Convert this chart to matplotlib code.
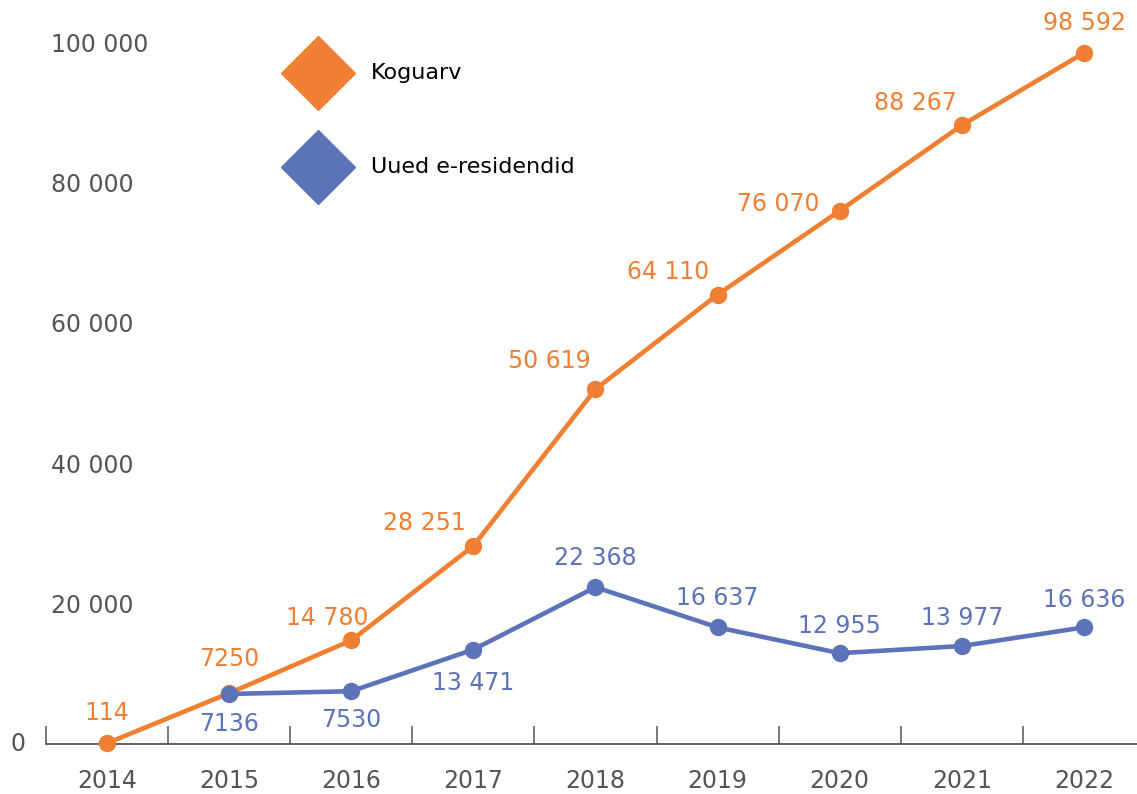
import matplotlib
matplotlib.use('Agg')
from matplotlib import pyplot as plt
from matplotlib.ticker import FixedLocator

years = ["2014", "2015", "2016", "2017", "2018", "2019", "2020", "2021", "2022"]
total = [114, 7250, 14780, 28251, 50619, 64110, 76070, 88267, 98592]
new_years = years[1:]
new_res = [7136, 7530, 13471, 22368, 16637, 12955, 13977, 16636]
y_ticks = [0, 20000, 40000, 60000, 80000, 100000]

orange = "#EE7F33"
blue = "#5D73B9"
grey = "#555555"

plt.rcParams['font.family'] = ['DejaVu Sans']
FS = 17

def fmt(v):
    return f"{v:,}".replace(",", " ") if v >= 10000 else str(v)

fig = plt.figure(figsize=(11.37, 7.94), dpi=100)
# x axis runs a little past the right edge of the figure
ax = fig.add_axes([46 / 1137, 50 / 794, (1145 - 46) / 1137, (744 - 43) / 794])

xs = list(range(len(years)))
xs_new = [years.index(y) for y in new_years]

ax.plot(xs, total, color=orange, lw=3.3, marker="o", ms=11.5, clip_on=False, zorder=3)
ax.plot(xs_new, new_res, color=blue, lw=3.3, marker="o", ms=11.5, clip_on=False, zorder=4)

ax.set_xlim(-0.5, 8.5)
ax.set_ylim(0, 100000)

# data labels (pixel offsets)
tot_off = [(0, 30), (0, 34), (-24, 22), (-49, 23), (-46, 28), (-49, 23), (-61, 7), (-46, 22), (0, 30)]
for x, v, (dx, dy) in zip(xs, total, tot_off):
    ax.annotate(fmt(v), (x, v), xytext=(dx, dy), textcoords="offset pixels",
                ha="center", va="center", color=orange, fontsize=FS)
new_off = [(0, -30), (0, -29), (0, -33), (0, 29), (0, 29), (0, 27), (0, 28), (0, 27)]
for x, v, (dx, dy) in zip(xs_new, new_res, new_off):
    ax.annotate(fmt(v), (x, v), xytext=(dx, dy), textcoords="offset pixels",
                ha="center", va="center", color=blue, fontsize=FS)

# spines / ticks
for s in ["top", "right", "left"]:
    ax.spines[s].set_visible(False)
ax.spines["bottom"].set_color(grey)
ax.spines["bottom"].set_linewidth(1.3)

ax.set_xticks(xs)
ax.set_xticklabels(years)
ax.xaxis.set_minor_locator(FixedLocator([i - 0.5 for i in range(len(years))]))
ax.tick_params(axis="x", which="major", length=0, pad=18, labelsize=FS, labelcolor=grey)
ax.tick_params(axis="x", which="minor", direction="in", length=13, width=1.1, color=grey)

ax.set_yticks([])
for t in y_ticks:
    if t == 0:
        ax.annotate("0", (0, t), xycoords=("axes fraction", "data"), xytext=(-21, 0),
                    textcoords="offset pixels", ha="right", va="center", color=grey, fontsize=FS)
    else:
        ax.annotate(fmt(t), (0, t), xycoords=("axes fraction", "data"), xytext=(5, -2),
                    textcoords="offset pixels", ha="left", va="center", color=grey, fontsize=FS)

# legend drawn by hand
for yy, col, lab in [(73, orange, "Koguarv"), (167, blue, "Uued e-residendid")]:
    fy = 1 - yy / 794
    fig.lines.append(plt.Line2D([318 / 1137], [fy], marker="D", ms=38, color=col,
                                transform=fig.transFigure, lw=0))
    fig.text(371 / 1137, fy, lab, ha="left", va="center", fontsize=16, color="black")

fig.savefig("out.png", dpi=100)
